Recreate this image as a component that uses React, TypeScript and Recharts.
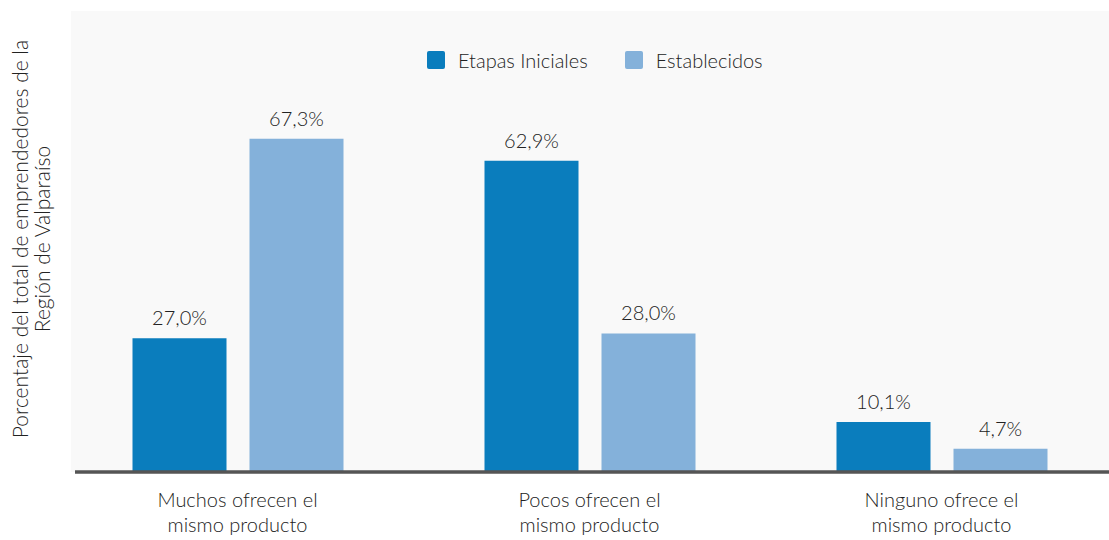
import { BarChart, Bar, XAxis, YAxis, Legend, LabelList } from "recharts";

const categories = ["Muchos ofrecen el\nmismo producto", "Pocos ofrecen el\nmismo producto", "Ninguno ofrece el\nmismo producto"];
const etapasIniciales = [27.0, 62.9, 10.1];
const establecidos = [67.3, 28.0, 4.7];
const seriesKeys = ["inicial", "establecido"];
const seriesNames = ["Etapas Iniciales", "Establecidos"];
const yLabelLines = ["Porcentaje del total de emprendedores de la", "Región de Valparaíso"];

const DARK = "#0a7dbd";
const LIGHT = "#84b1da";
const TEXT = "#222222";
const FONT = "Lato, 'Noto Sans', sans-serif";
const WEIGHT = 300;

const data = categories.map((c, i) => ({
  name: c,
  inicial: etapasIniciales[i],
  establecido: establecidos[i],
}));

const fmt = (v: number) => v.toFixed(1).replace(".", ",") + "%";

function CategoryTick(props: any) {
  const { x, y, payload } = props;
  const lines = String(payload.value).split("\n");
  return (
    <text x={x} y={y} textAnchor="middle" fill={TEXT} fontSize={20} fontFamily={FONT} fontWeight={WEIGHT}>
      {lines.map((l, i) => (
        <tspan key={i} x={x} y={y + 33 + i * 25}>
          {l}
        </tspan>
      ))}
    </text>
  );
}

function LegendContent(props: any) {
  const items = [...(props.payload || [])].sort(
    (a: any, b: any) => seriesKeys.indexOf(a.dataKey) - seriesKeys.indexOf(b.dataKey)
  );
  return (
    <div style={{ display: "flex", alignItems: "center", fontFamily: FONT, fontWeight: WEIGHT }}>
      {items.map((p: any, i: number) => (
        <div key={i} style={{ display: "flex", alignItems: "center", marginRight: 37 }}>
          <span
            style={{ width: 18, height: 18, borderRadius: 2, background: p.color, display: "inline-block", marginRight: 13 }}
          />
          <span style={{ fontSize: 20, color: TEXT, lineHeight: "20px" }}>{p.value}</span>
        </div>
      ))}
    </div>
  );
}

export default function App() {
  return (
    <div style={{ position: "absolute", left: 0, top: 0, width: 1109, height: 540, background: "#ffffff", overflow: "hidden" }}>
      <div style={{ position: "absolute", left: 71, top: 11, width: 1038, height: 461, background: "#f9f9f9" }} />
      <svg style={{ position: "absolute", left: 0, top: 0 }} width={70} height={540}>
        {yLabelLines.map((l, i) => (
          <text
            key={i}
            x={0}
            y={0}
            transform={`translate(${28 + i * 22}, 239) rotate(-90)`}
            textAnchor="middle"
            fill={TEXT}
            fontSize={21}
            fontFamily={FONT}
            fontWeight={WEIGHT}
          >
            {l}
          </text>
        ))}
      </svg>
      <div style={{ position: "absolute", left: 0, top: 0 }}>
        <BarChart
          width={1109}
          height={540}
          data={data}
          margin={{ top: 56, right: 0, bottom: 8, left: 75 }}
          barSize={94}
          barGap={23}
        >
          <XAxis
            dataKey="name"
            height={60}
            padding={{ left: -13.5, right: -8.5 }}
            axisLine={{ stroke: "#555555", strokeWidth: 3.5 }}
            tickLine={false}
            tickSize={0}
            tick={<CategoryTick />}
            interval={0}
          />
          <YAxis hide domain={[0, 80]} />
          <Legend
            verticalAlign="top"
            align="left"
            content={<LegendContent />}
            wrapperStyle={{ top: 50, left: 427, width: "auto" }}
          />
          <Bar dataKey="inicial" name={seriesNames[0]} fill={DARK} isAnimationActive={false}>
            <LabelList dataKey="inicial" position="top" offset={13} formatter={(v: any) => fmt(Number(v))} fill={TEXT} fontSize={20} fontFamily={FONT} fontWeight={WEIGHT} />
          </Bar>
          <Bar dataKey="establecido" name={seriesNames[1]} fill={LIGHT} isAnimationActive={false}>
            <LabelList dataKey="establecido" position="top" offset={13} formatter={(v: any) => fmt(Number(v))} fill={TEXT} fontSize={20} fontFamily={FONT} fontWeight={WEIGHT} />
          </Bar>
        </BarChart>
      </div>
    </div>
  );
}
